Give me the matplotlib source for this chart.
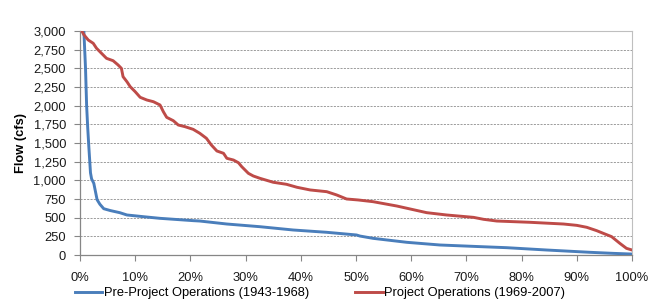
import numpy as np
import matplotlib
matplotlib.use("Agg")
import matplotlib.pyplot as plt
from matplotlib.ticker import FuncFormatter, MultipleLocator

# ==============================
# DATA
# ==============================
pre_pct = [0.0, 0.7, 1.0, 1.2, 1.4, 1.6, 1.9, 2.1, 2.5, 2.8, 3.1, 3.6, 4.3,
           5.5, 7.2, 8.5, 11.5, 14.5, 15.7, 20.5, 21.7, 26.6, 32.6, 38.6, 44.7,
           50.1, 50.7, 53.1, 59.2, 65.2, 72.5, 77.3, 84.5, 92.4, 96.6, 99.9]
pre_flow = [3300, 3000, 2500, 2000, 1700, 1450, 1100, 1020, 960, 850, 740, 680,
            620, 595, 567, 536, 513, 491, 485, 460, 455, 415, 379, 335, 304,
            268, 254, 223, 170, 134, 112, 98, 67, 36, 22, 13]

proj_pct = [0.4, 0.7, 1.5, 2.4, 3.0, 3.9, 4.8, 6.0, 6.9, 7.5, 7.8, 8.5, 9.1, 10.0,
            10.9, 12.1, 13.3, 14.5, 15.1, 15.7, 16.9, 17.8, 19.0, 20.5, 21.7, 22.9,
            23.8, 24.8, 26.0, 26.6, 27.8, 28.7, 29.3, 30.5, 31.4, 32.6, 35.0, 37.4,
            39.3, 41.7, 44.7, 46.5, 48.3, 50.4, 53.1, 57.4, 62.8, 66.4, 71.3, 73.1,
            75.5, 81.5, 87.6, 90.0, 91.8, 93.6, 94.8, 96.3, 97.8, 99.0, 100.0]
proj_flow = [2990, 2950, 2879, 2835, 2768, 2701, 2634, 2602, 2545, 2500, 2388, 2321,
             2254, 2187, 2112, 2076, 2053, 2009, 1919, 1844, 1799, 1741, 1719, 1683,
             1630, 1563, 1473, 1393, 1362, 1295, 1272, 1236, 1183, 1094, 1058, 1027,
             974, 947, 907, 871, 848, 804, 750, 737, 714, 656, 567, 536, 504, 478,
             455, 438, 415, 397, 371, 326, 290, 246, 156, 89, 67]

pre_label = "Pre-Project Operations (1943-1968)"
proj_label = "Project Operations (1969-2007)"

BLUE = "#4A7EBB"
RED = "#BE4B48"
FS = 9.3

plt.rcParams["font.family"] = ["Liberation Sans", "DejaVu Sans"]

# ==============================
# CHART
# ==============================
fig = plt.figure(figsize=(6.64, 3.02), dpi=100)
ax = fig.add_axes([80 / 664, 1 - 255 / 302, 552 / 664, 224 / 302])

ax.plot(pre_pct, pre_flow, color=BLUE, lw=2.1, label=pre_label,
        solid_joinstyle="round", zorder=3)
ax.plot(proj_pct, proj_flow, color=RED, lw=2.1, label=proj_label,
        solid_joinstyle="round", zorder=3)

ax.set_xlim(0, 100)
ax.set_ylim(0, 3000)
ax.xaxis.set_major_locator(MultipleLocator(10))
ax.yaxis.set_major_locator(MultipleLocator(250))
ax.xaxis.set_major_formatter(FuncFormatter(lambda v, p: f"{v:.0f}%"))
ax.yaxis.set_major_formatter(FuncFormatter(lambda v, p: f"{v:,.0f}"))

ax.grid(axis="y", color="#8c8c8c", lw=0.6, linestyle=(0, (2.5, 1.5)))
ax.set_axisbelow(True)

for side in ("left", "bottom"):
    ax.spines[side].set_color("#868686")
    ax.spines[side].set_linewidth(0.9)
for side in ("top", "right"):
    ax.spines[side].set_color("#bfbfbf")
    ax.spines[side].set_linewidth(0.8)

ax.tick_params(axis="both", direction="out", length=4, width=0.8, color="#868686",
               labelsize=FS, labelcolor="#1a1a1a")
ax.tick_params(axis="x", pad=8)
ax.tick_params(axis="y", pad=6)

ax.set_ylabel("Flow (cfs)", fontsize=FS, fontweight="bold", labelpad=5)

fig.legend(loc="center", bbox_to_anchor=(320 / 664, 1 - 293 / 302), ncol=2,
           frameon=False, fontsize=FS, handlelength=2.1, handletextpad=0.15,
           columnspacing=3.6, borderaxespad=0, borderpad=0)

fig.savefig("out.png", dpi=100)
